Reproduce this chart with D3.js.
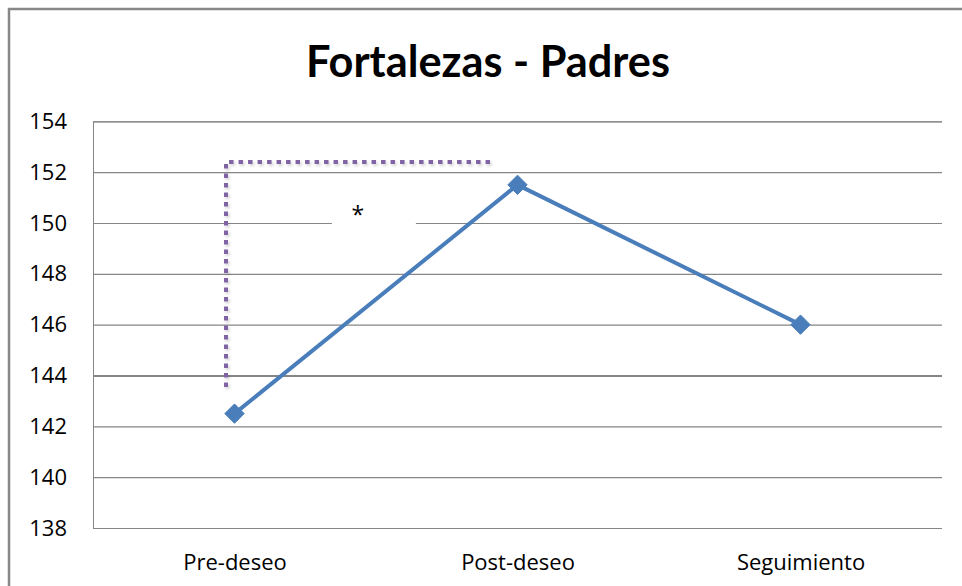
<!DOCTYPE html>
<html>
<head>
<meta charset="utf-8">
<script src="https://cdn.jsdelivr.net/npm/d3@7"></script>
<style>
  html, body { margin: 0; padding: 0; background: #fff; }
  svg { display: block; }
</style>
</head>
<body>
<svg id="chart" width="962" height="586"></svg>
<script>
// Fortalezas - Padres: mean score at each assessment point
const categories = ["Pre-deseo", "Post-deseo", "Seguimiento"];
const values = [142.5, 151.5, 146];
const yTicks = [138, 140, 142, 144, 146, 148, 150, 152, 154];

// significance bracket between Pre-deseo and Post-deseo (x in category index units)
const bracketX = [-0.03, 0.91];
const bracketY = [143.55, 152.4];
const starLabel = "*";
const starPos = { x: 0.436, y: 150.5 };

const svg = d3.select("#chart");
const W = 962, H = 586;
const plot = { left: 93, right: 942, top: 121.3, bottom: 528 };

const x = d3.scaleLinear()
  .domain([-0.5, categories.length - 0.5])
  .range([plot.left, plot.right]);
const y = d3.scaleLinear()
  .domain([d3.min(yTicks), d3.max(yTicks)])
  .range([plot.bottom, plot.top]);

// drop shadow for the dotted bracket
const defs = svg.append("defs");
const f = defs.append("filter").attr("id", "soft").attr("x", "-20%").attr("y", "-20%")
  .attr("width", "140%").attr("height", "140%");
f.append("feDropShadow").attr("dx", 1.5).attr("dy", 2).attr("stdDeviation", 1.6)
  .attr("flood-color", "#000").attr("flood-opacity", 0.18);

// chart area frame
svg.append("rect")
  .attr("x", 9).attr("y", 9).attr("width", W + 20).attr("height", H + 20)
  .attr("fill", "#fff").attr("stroke", "#888").attr("stroke-width", 2.5);

// title
svg.append("text")
  .attr("x", 488).attr("y", 76.5)
  .attr("text-anchor", "middle")
  .attr("font-family", "Lato, 'Open Sans', sans-serif")
  .attr("font-weight", "bold")
  .attr("font-size", 43)
  .attr("textLength", 364).attr("lengthAdjust", "spacingAndGlyphs")
  .attr("fill", "#000")
  .text("Fortalezas - Padres");

// horizontal gridlines + y labels
const yAxis = d3.axisLeft(y)
  .tickValues(yTicks)
  .tickSize(-(plot.right - plot.left))
  .tickPadding(26)
  .tickFormat(d3.format("d"));
const gy = svg.append("g")
  .attr("transform", `translate(${plot.left},0)`)
  .call(yAxis);
gy.select(".domain").attr("stroke", "#868686").attr("stroke-width", 1);
gy.selectAll(".tick line")
  .attr("stroke", "#868686")
  .attr("stroke-width", d => d === 144 ? 2 : 1.2);
gy.selectAll(".tick text")
  .attr("font-family", "'Open Sans', sans-serif")
  .attr("font-size", 22)
  .attr("fill", "#000");

// category labels
const xAxis = d3.axisBottom(x)
  .tickValues(d3.range(categories.length))
  .tickSize(0)
  .tickPadding(26)
  .tickFormat(i => categories[i]);
const gx = svg.append("g")
  .attr("transform", `translate(0,${plot.bottom})`)
  .call(xAxis);
gx.select(".domain").remove();
gx.selectAll(".tick text")
  .attr("font-family", "'Open Sans', sans-serif")
  .attr("font-size", 22)
  .attr("fill", "#000");

// white label box with the asterisk
const sx = x(starPos.x), sy = y(starPos.y);
svg.append("rect")
  .attr("x", sx - 26).attr("y", sy - 20)
  .attr("width", 84).attr("height", 40)
  .attr("fill", "#fff");
svg.append("text")
  .attr("x", sx).attr("y", sy + 13)
  .attr("text-anchor", "middle")
  .attr("font-family", "'Open Sans', sans-serif")
  .attr("font-size", 23)
  .attr("fill", "#000")
  .text(starLabel);

// dotted bracket
svg.append("path")
  .attr("d", d3.line()([
    [x(bracketX[0]), y(bracketY[0])],
    [x(bracketX[0]), y(bracketY[1])],
    [x(bracketX[1]), y(bracketY[1])]
  ]))
  .attr("fill", "none")
  .attr("stroke", "#8064A2")
  .attr("stroke-width", 4)
  .attr("stroke-dasharray", "4.5,5")
  .attr("filter", "url(#soft)");

// series line
const line = d3.line()
  .x((d, i) => x(i))
  .y(d => y(d));
svg.append("path")
  .datum(values)
  .attr("d", line)
  .attr("fill", "none")
  .attr("stroke", "#4A7EBB")
  .attr("stroke-width", 4)
  .attr("stroke-linejoin", "round");

// diamond markers
svg.selectAll("path.marker")
  .data(values)
  .join("path")
  .attr("class", "marker")
  .attr("transform", (d, i) => `translate(${x(i)},${y(d)})`)
  .attr("d", d3.symbol().type(d3.symbolDiamond2).size(240))
  .attr("fill", "#4A7EBB")
  .attr("stroke", "#4A7EBB")
  .attr("stroke-width", 1);
</script>
</body>
</html>
